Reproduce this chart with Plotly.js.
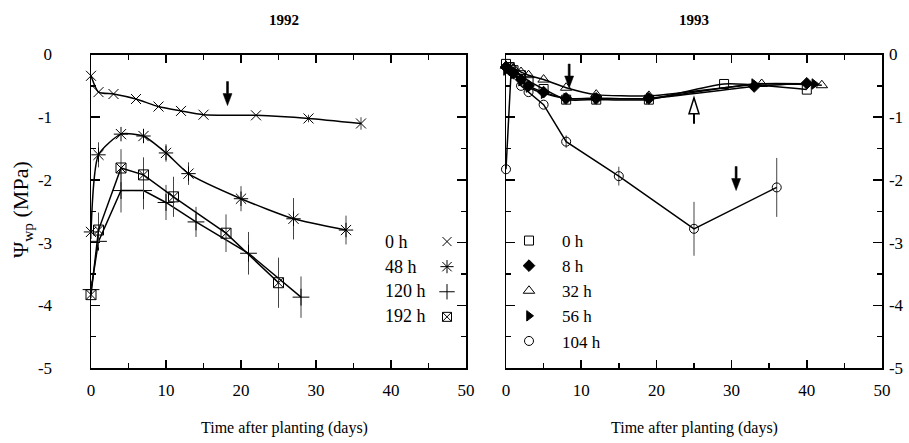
<!DOCTYPE html>
<html><head><meta charset="utf-8">
<script src="https://cdn.plot.ly/plotly-3.0.1.min.js"></script>
<style>html,body{margin:0;padding:0;background:#fff}#chart{width:909px;height:443px}</style>
</head><body><div id="chart"></div>
<script>
// ---------- 1992 data (days, MPa, error) ----------
var h0_92_x = [0, 1, 3, 6, 9, 12, 15, 22, 29, 36];
var h0_92_y = [-0.34, -0.60, -0.63, -0.71, -0.83, -0.90, -0.96, -0.97, -1.02, -1.10];
var h0_92_e = [0, 0, 0, 0, 0, 0, 0, 0, 0.06, 0.10];

var h48_92_x = [0, 1, 4, 7, 10, 13, 20, 27, 34];
var h48_92_y = [-2.83, -1.60, -1.27, -1.30, -1.57, -1.90, -2.30, -2.62, -2.80];
var h48_92_e = [0, 0.20, 0, 0, 0.14, 0.18, 0.20, 0.33, 0.23];

var h120_92_x = [0, 1, 4, 7, 10, 14, 21, 28];
var h120_92_y = [-3.75, -2.98, -2.17, -2.17, -2.36, -2.67, -3.17, -3.87];
var h120_92_e = [0, 0.15, 0.35, 0.30, 0.28, 0.24, 0.34, 0.33];

var h192_92_x = [0, 1, 4, 7, 11, 18, 25];
var h192_92_y = [-3.83, -2.80, -1.81, -1.92, -2.27, -2.85, -3.64];
var h192_92_e = [0, 0.28, 0.30, 0.28, 0.32, 0.30, 0.40];

// ---------- 1993 data ----------
var h0_93_x = [0, 0.5, 1, 2, 3, 5, 8, 12, 19, 29, 40];
var h0_93_y = [-0.15, -0.20, -0.25, -0.33, -0.42, -0.55, -0.72, -0.72, -0.72, -0.47, -0.56];

var h8_93_x = [0, 0.5, 1, 2, 3, 5, 8, 12, 19, 33, 40];
var h8_93_y = [-0.20, -0.25, -0.30, -0.40, -0.50, -0.60, -0.70, -0.70, -0.70, -0.51, -0.46];

var h32_93_x = [0, 1, 2, 3, 5, 8, 12, 19, 34, 42];
var h32_93_y = [-0.18, -0.22, -0.28, -0.33, -0.40, -0.53, -0.64, -0.66, -0.47, -0.49];

var h56_93_x = [0, 1, 2, 3, 5, 8, 12, 19, 33, 41];
var h56_93_y = [-0.25, -0.30, -0.42, -0.52, -0.62, -0.70, -0.70, -0.70, -0.47, -0.47];

var h104_93_x = [0, 0.7, 2, 3, 5, 8, 15, 25, 36];
var h104_93_y = [-1.83, -0.22, -0.50, -0.60, -0.80, -1.39, -1.94, -2.78, -2.12];
var h104_93_e = [0, 0, 0, 0, 0, 0.10, 0.15, 0.43, 0.47];

// ---------- labels ----------
var legend92 = ['0 h', '48 h', '120 h', '192 h'];
var legend93 = ['0 h', '8 h', '32 h', '56 h', '104 h'];
var xTickVals = [0, 10, 20, 30, 40, 50];
var xTickText = ['0', '10', '20', '30', '40', '50'];
var yTickVals = [-5, -4, -3, -2, -1, 0];
var yTickText = ['-5', '-4', '-3', '-2', '-1', '0'];
var yTitle = '\u03A8<sub>wp</sub> (MPa)';
var xTitle = 'Time after planting (days)';

var FONT = '"Liberation Serif", "Times New Roman", serif';
var W = 909, H = 443;
function px(x) { return x / W; }
function py(y) { return 1 - y / H; }

function errObj(arr) {
  return {type: 'data', array: arr, visible: true, width: 0, thickness: 1, color: '#444'};
}
function series(x, y, e, sym, size, xa, ya, spline) {
  var t = {
    x: x, y: y, xaxis: xa, yaxis: ya, mode: 'lines+markers', showlegend: false,
    cliponaxis: false,
    line: {color: '#000', width: 1.5, shape: spline ? 'spline' : 'linear', smoothing: 0.6},
    marker: {symbol: sym, size: size, color: '#000', line: {color: '#000', width: 1}}
  };
  if (e) t.error_y = errObj(e);
  return t;
}
function legendItem(name, sym, size, legend) {
  return {x: [null], y: [null], mode: 'markers', name: name, legend: legend, showlegend: true,
    marker: {symbol: sym, size: size, color: '#000', line: {color: '#000', width: 1}}};
}

var sym92 = ['x-thin-open', 'asterisk-open', 'cross-thin-open', 'square-x-open'];
var size92 = [10, 12, 12, 10];
var sym93 = ['square-open', 'diamond', 'triangle-up-open', 'triangle-right', 'circle-open'];
var size93 = [9, 9, 10, 9, 9];

var data = [
  series(h0_92_x, h0_92_y, h0_92_e, sym92[0], size92[0], 'x', 'y', true),
  series(h48_92_x, h48_92_y, h48_92_e, sym92[1], size92[1], 'x', 'y', true),
  series(h120_92_x, h120_92_y, h120_92_e, sym92[2], size92[2], 'x', 'y', false),
  series(h192_92_x, h192_92_y, h192_92_e, sym92[3], size92[3], 'x', 'y', false),
  series(h0_93_x, h0_93_y, null, sym93[0], size93[0], 'x2', 'y2', true),
  series(h8_93_x, h8_93_y, null, sym93[1], size93[1], 'x2', 'y2', true),
  series(h32_93_x, h32_93_y, null, sym93[2], size93[2], 'x2', 'y2', true),
  series(h56_93_x, h56_93_y, null, sym93[3], size93[3], 'x2', 'y2', true),
  series(h104_93_x, h104_93_y, h104_93_e, sym93[4], size93[4], 'x2', 'y2', false)
];
for (var i = 0; i < legend92.length; i++) data.push(legendItem(' ', sym92[i], size92[i] - 1, 'legend'));
for (var j = 0; j < legend93.length; j++) data.push(legendItem(legend93[j], sym93[j], size93[j], 'legend2'));

function xAxis(dom, anchor) {
  return {domain: dom, anchor: anchor, range: [0, 50], showgrid: false, zeroline: false,
    showline: true, linecolor: '#000', linewidth: 1.5, mirror: 'ticks',
    ticks: 'inside', ticklen: 8, tickwidth: 1.5, tickcolor: '#000',
    tickvals: xTickVals, ticktext: xTickText, ticklabelstandoff: 6,
    tickfont: {family: FONT, size: 17, color: '#000'},
    minor: {tickvals: [5, 15, 25, 35, 45], ticks: 'inside', ticklen: 5, tickwidth: 1.5, tickcolor: '#000'}};
}
function yAxis(dom, anchor, side, standoff) {
  return {domain: dom, anchor: anchor, side: side, range: [-5, 0], showgrid: false, zeroline: false,
    showline: true, linecolor: '#000', linewidth: 1.5, mirror: 'ticks',
    ticks: 'inside', ticklen: 9, tickwidth: 1.5, tickcolor: '#000',
    tickvals: yTickVals, ticktext: yTickText, ticklabelstandoff: standoff,
    tickfont: {family: FONT, size: 17, color: '#000'},
    minor: {tickvals: [-4.5, -3.5, -2.5, -1.5, -0.5], ticks: 'inside', ticklen: 5, tickwidth: 1.5, tickcolor: '#000'}};
}

var ydom = [py(368), py(54.5)];
function ann(text, x, y, size, extra) {
  var a = {text: text, xref: 'paper', yref: 'paper', x: px(x), y: py(y), xanchor: 'center', yanchor: 'middle',
           showarrow: false, font: {family: FONT, size: size, color: '#000'}};
  for (var key in (extra || {})) a[key] = extra[key];
  return a;
}
var layout = {
  width: W, height: H, margin: {l: 0, r: 0, t: 0, b: 0},
  paper_bgcolor: '#fff', plot_bgcolor: '#fff',
  font: {family: FONT, color: '#000'},
  xaxis: xAxis([px(91), px(466)], 'y'),
  yaxis: yAxis(ydom, 'x', 'left', 34),
  xaxis2: xAxis([px(506), px(882)], 'y2'),
  yaxis2: yAxis(ydom, 'x2', 'right', 2),
  legend: {x: px(427), y: py(224), xanchor: 'left', yanchor: 'top', bgcolor: 'rgba(0,0,0,0)',
           font: {family: FONT, size: 17}, itemwidth: 30, tracegroupgap: 0},
  legend2: {x: px(496), y: py(223), xanchor: 'left', yanchor: 'top', bgcolor: 'rgba(0,0,0,0)',
           font: {family: FONT, size: 17}, itemwidth: 56, tracegroupgap: 0},
  annotations: [
    ann('<b>1992</b>', 284, 20, 15),
    ann('<b>1993</b>', 694, 20, 15),
    ann(xTitle, 284, 428, 16),
    ann(xTitle, 694, 428, 16),
    ann(yTitle, 22, 210, 22, {textangle: -90})
  ],
  shapes: []
};
for (var k = 0; k < legend92.length; k++) {
  layout.annotations.push(ann(legend92[k], 383, 242 + k * 24.7, 18, {xanchor: 'left'}));
}
// arrows (decorations)
function filledArrow(xref, yref, x, y) {
  layout.shapes.push({type: 'path', xref: xref, yref: yref, xsizemode: 'pixel', ysizemode: 'pixel',
    xanchor: x, yanchor: y, path: 'M 0 0 L -4.5 12 L -1 12 L -1 24 L 1 24 L 1 12 L 4.5 12 Z',
    fillcolor: '#000', line: {color: '#000', width: 0.5}});
}
filledArrow('x', 'y', 18.2, -0.815);
filledArrow('x2', 'y2', 8.4, -0.535);
filledArrow('x2', 'y2', 30.6, -2.17);
layout.shapes.push({type: 'path', xref: 'x2', yref: 'y2', xsizemode: 'pixel', ysizemode: 'pixel',
  xanchor: 25, yanchor: -0.69, path: 'M 0 0 L -5 -16 L 5 -16 Z', fillcolor: '#fff', line: {color: '#000', width: 1.5}});
layout.shapes.push({type: 'path', xref: 'x2', yref: 'y2', xsizemode: 'pixel', ysizemode: 'pixel',
  xanchor: 25, yanchor: -0.69, path: 'M 0 -16 L 0 -26', line: {color: '#000', width: 2}});

Plotly.newPlot('chart', data, layout, {staticPlot: true});
</script></body></html>
